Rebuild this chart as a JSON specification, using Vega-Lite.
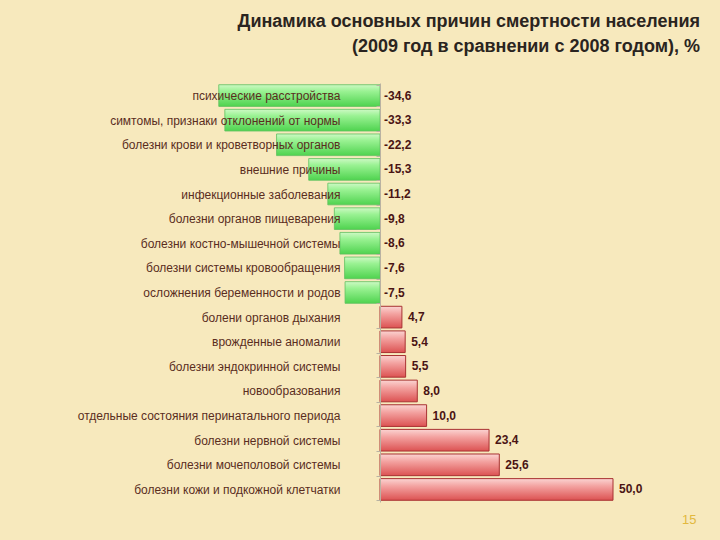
{
  "$schema": "https://vega.github.io/schema/vega-lite/v6.json",
  "autosize": {"type": "none"},
  "padding": {"left": 0, "top": 83, "right": 20, "bottom": 38},
  "width": 700,
  "height": 419,
  "background": "#f7e9bd",
  "title": {
    "text": ["Динамика основных причин смертности населения", "(2009 год в сравнении с 2008 годом), %"],
    "anchor": "end",
    "align": "right",
    "font": "Liberation Sans",
    "fontSize": 18,
    "fontWeight": "bold",
    "color": "#2a2420",
    "lineHeight": 25,
    "offset": 21
  },
  "data": {
    "values": [
      {"cause": "психические расстройства", "value": -34.6},
      {"cause": "симтомы, признаки отклонений от нормы", "value": -33.3},
      {"cause": "болезни крови и кроветворных органов", "value": -22.2},
      {"cause": "внешние причины", "value": -15.3},
      {"cause": "инфекционные заболевания", "value": -11.2},
      {"cause": "болезни органов пищеварения", "value": -9.8},
      {"cause": "болезни костно-мышечной системы", "value": -8.6},
      {"cause": "болезни системы кровообращения", "value": -7.6},
      {"cause": "осложнения беременности и родов", "value": -7.5},
      {"cause": "болени органов дыхания", "value": 4.7},
      {"cause": "врожденные аномалии", "value": 5.4},
      {"cause": "болезни эндокринной системы", "value": 5.5},
      {"cause": "новообразования", "value": 8.0},
      {"cause": "отдельные состояния перинатального периода", "value": 10.0},
      {"cause": "болезни нервной системы", "value": 23.4},
      {"cause": "болезни мочеполовой системы", "value": 25.6},
      {"cause": "болезни кожи и подкожной клетчатки", "value": 50.0}
    ]
  },
  "encoding": {
    "y": {
      "field": "cause",
      "type": "nominal",
      "sort": null,
      "scale": {"paddingInner": 0.12, "paddingOuter": 0.07},
      "axis": {
        "orient": "left",
        "offset": -380,
        "title": null,
        "zindex": 1,
        "grid": false,
        "domain": true,
        "domainColor": "#b9b2a2",
        "ticks": true,
        "tickBand": "extent",
        "tickSize": 4,
        "tickColor": "#b9b2a2",
        "labelPadding": 36,
        "labelFont": "Liberation Sans",
        "labelFontSize": 12,
        "labelColor": "#5a2d1e",
        "labelLimit": 0
      }
    },
    "x": {
      "field": "value",
      "type": "quantitative",
      "scale": {"domain": [-81.55, 68.67], "nice": false, "zero": false},
      "axis": {
        "labels": false,
        "ticks": false,
        "domain": false,
        "grid": false,
        "title": "15",
        "titleAnchor": "end",
        "titleFont": "Liberation Sans",
        "titleFontSize": 13,
        "titleFontWeight": "normal",
        "titleColor": "#e2b83e",
        "titlePadding": 11,
        "titleX": 696
      }
    }
  },
  "layer": [
    {
      "transform": [{"filter": "datum.value < 0"}],
      "mark": {
        "type": "bar",
        "stroke": "#5fbf5f",
        "strokeWidth": 0.8,
        "fill": {
          "gradient": "linear",
          "x1": 0, "y1": 0, "x2": 0, "y2": 1,
          "stops": [
            {"offset": 0, "color": "#cdf9c4"},
            {"offset": 0.3, "color": "#9af293"},
            {"offset": 1, "color": "#4fd34f"}
          ]
        }
      },
      "encoding": {"x2": {"datum": 0}}
    },
    {
      "transform": [{"filter": "datum.value > 0"}],
      "mark": {
        "type": "bar",
        "stroke": "#a83232",
        "strokeWidth": 1,
        "fill": {
          "gradient": "linear",
          "x1": 0, "y1": 0, "x2": 0, "y2": 1,
          "stops": [
            {"offset": 0, "color": "#fbd4d2"},
            {"offset": 0.35, "color": "#f3a2a0"},
            {"offset": 1, "color": "#dc5252"}
          ]
        }
      },
      "encoding": {"x2": {"datum": 0}}
    },
    {
      "transform": [{"filter": "datum.value < 0"}],
      "mark": {"type": "text", "align": "left", "baseline": "middle", "dx": 4, "font": "Liberation Sans", "fontSize": 12, "fontWeight": "bold", "color": "#4a1414"},
      "encoding": {
        "x": {"datum": 0, "type": "quantitative"},
        "text": {"field": "value", "type": "quantitative", "format": ".1f"}
      }
    },
    {
      "transform": [{"filter": "datum.value > 0"}],
      "mark": {"type": "text", "align": "left", "baseline": "middle", "dx": 6, "font": "Liberation Sans", "fontSize": 12, "fontWeight": "bold", "color": "#4a1414"},
      "encoding": {
        "text": {"field": "value", "type": "quantitative", "format": ".1f"}
      }
    }
  ],
  "config": {
    "view": {"stroke": null},
    "locale": {
      "number": {"decimal": ",", "thousands": " ", "grouping": [3], "currency": ["", ""], "minus": "-"}
    }
  }
}
